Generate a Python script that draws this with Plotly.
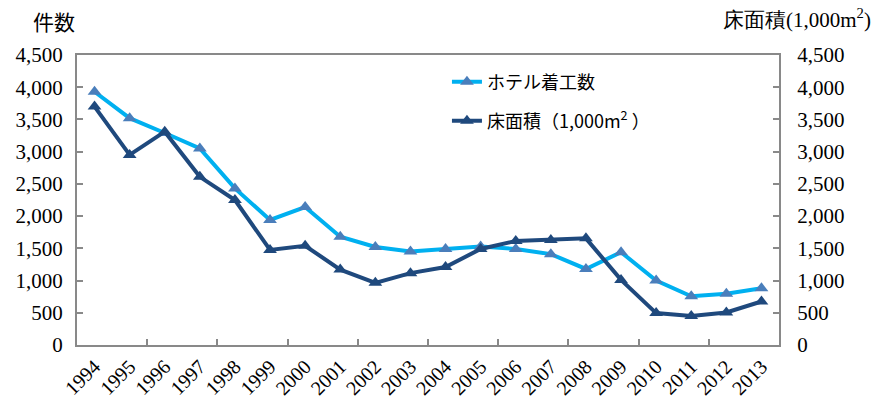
import plotly.graph_objects as go

years = [str(y) for y in range(1994, 2014)]
hotel_starts = [3930, 3520, 3290, 3050, 2430, 1940, 2140, 1680, 1520, 1450,
                1490, 1530, 1490, 1410, 1180, 1440, 1000, 755, 795, 880]
floor_area = [3700, 2950, 3310, 2610, 2250, 1475, 1540, 1170, 965, 1115,
              1210, 1490, 1615, 1630, 1655, 1010, 495, 450, 505, 675]
y_ticks = list(range(0, 4501, 500))
y_ticktext = [f"{v:,}" for v in y_ticks]

idx = list(range(len(years)))
boundary_ticks = [i + 0.5 for i in range(1, len(years) - 1, 2)]

SERIF = "Liberation Serif"
CJK = "Noto Sans CJK JP"
AXIS_GRAY = "#898989"

fig = go.Figure()
fig.add_trace(go.Scatter(
    x=idx, y=hotel_starts, name="ホテル着工数", mode="lines+markers",
    line=dict(color="#00B0F0", width=4),
    marker=dict(symbol="triangle-up", size=12, color="#4A7EBB"),
    legend="legend",
))
fig.add_trace(go.Scatter(
    x=idx, y=floor_area, name="床面積（1,000m<sup>2</sup> ）", mode="lines+markers",
    line=dict(color="#1F497D", width=4),
    marker=dict(symbol="triangle-up", size=12, color="#1F497D"),
    legend="legend2", yaxis="y2",
))
# invisible trace that carries the boundary tick marks on a second x axis
fig.add_trace(go.Scatter(x=[None], y=[None], xaxis="x2", showlegend=False,
                         hoverinfo="skip"))

fig.update_layout(
    width=875, height=407,
    margin=dict(l=77, r=96, t=55, b=62, autoexpand=False),
    paper_bgcolor="white", plot_bgcolor="white",
    font=dict(family=SERIF, size=18, color="black"),
    xaxis=dict(
        range=[-0.5, len(years) - 0.5], tickvals=idx, ticktext=years,
        tickangle=-45, ticks="", showgrid=False, zeroline=False,
        showline=True, linecolor=AXIS_GRAY, linewidth=2, mirror=True,
        tickfont=dict(family=SERIF, size=20, color="black"), automargin=False,
    ),
    xaxis2=dict(
        range=[-0.5, len(years) - 0.5], overlaying="x", side="bottom",
        tickvals=boundary_ticks, showticklabels=False,
        ticks="inside", ticklen=6, tickwidth=1.5, tickcolor=AXIS_GRAY,
        showgrid=False, zeroline=False, showline=False, automargin=False,
    ),
    yaxis=dict(
        range=[0, 4500], tickvals=y_ticks, ticktext=y_ticktext,
        ticks="inside", ticklen=6, tickwidth=1.5, tickcolor=AXIS_GRAY,
        showgrid=False, zeroline=False, showline=True,
        linecolor=AXIS_GRAY, linewidth=2, automargin=False,
        tickfont=dict(family=SERIF, size=21, color="black"), ticklabelstandoff=8,
    ),
    yaxis2=dict(
        range=[0, 4500], tickvals=y_ticks, ticktext=y_ticktext,
        overlaying="y", side="right",
        ticks="inside", ticklen=6, tickwidth=1.5, tickcolor=AXIS_GRAY,
        showgrid=False, zeroline=False, showline=True,
        linecolor=AXIS_GRAY, linewidth=2, automargin=False,
        tickfont=dict(family=SERIF, size=21, color="black"), ticklabelstandoff=12,
    ),
    legend=dict(x=0.527, y=0.907, xanchor="left", yanchor="middle",
                bgcolor="rgba(0,0,0,0)", font=dict(family=CJK, size=18)),
    legend2=dict(x=0.527, y=0.772, xanchor="left", yanchor="middle",
                 bgcolor="rgba(0,0,0,0)", font=dict(family=CJK, size=18)),
    showlegend=True,
)

# axis titles placed in pixel terms relative to the plot area
plot_w = 875 - 77 - 96
plot_h = 407 - 55 - 62
fig.add_annotation(
    text="件数", xref="paper", yref="paper", showarrow=False,
    x=(54 - 77) / plot_w, y=(plot_h + 55 - 21) / plot_h,
    xanchor="center", yanchor="middle",
    font=dict(family=CJK, size=21, color="black"))
fig.add_annotation(
    text="床面積(1,000m<sup>2</sup>)", xref="paper", yref="paper", showarrow=False,
    x=(873 - 77) / plot_w, y=(plot_h + 55 - 19) / plot_h,
    xanchor="right", yanchor="middle",
    font=dict(family=SERIF, size=21, color="black"))

fig.write_html("out.html")
